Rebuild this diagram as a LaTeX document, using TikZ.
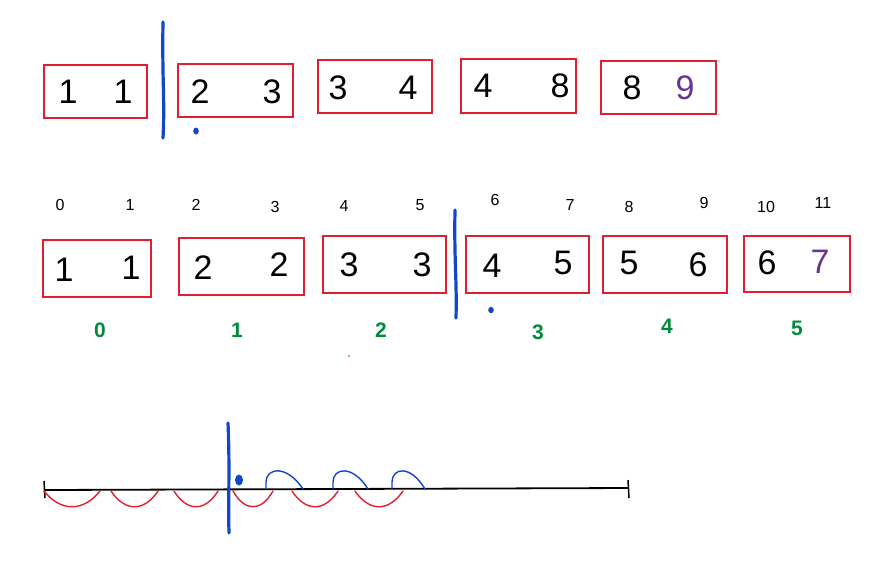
\documentclass[tikz,border=0pt]{standalone}
\usepackage{fontspec}
\setmainfont{Liberation Sans}
\usepackage{tikz}
\usetikzlibrary{positioning}
\definecolor{boxred}{RGB}{228,30,50}
\definecolor{penblue}{RGB}{20,70,200}
\definecolor{pengreen}{RGB}{0,140,60}
\definecolor{penpurple}{RGB}{105,50,150}

\begin{document}
\begin{tikzpicture}[
    x=1pt, y=-1pt,
    cell/.style={rectangle, draw=boxred, line width=1.6pt, minimum height=53pt, inner sep=0pt},
    dig/.style={font=\fontsize{34}{34}\selectfont, inner sep=0pt},
    idx/.style={font=\fontsize{16}{16}\selectfont, inner sep=0pt},
    grp/.style={font=\fontsize{21}{21}\selectfont\bfseries, text=pengreen, inner sep=0pt},
    cut/.style={draw=penblue, line width=3.2pt, line cap=round},
    redarc/.style={draw=boxred, line width=1.4pt, line cap=round},
    bluearc/.style={draw=penblue, line width=1.4pt, line cap=round},
  ]
  \useasboundingbox (0,0) rectangle (874,566);

  % first row
  \node[cell, minimum width=103pt] (a1) at (95.5,91.5) {};
  \node[cell, minimum width=115pt] (a2) at (235.5,90.5) {};
  \node[cell, minimum width=114pt] (a3) at (375,86.5) {};
  \node[cell, minimum width=115pt, minimum height=54pt] (a4) at (518.5,86) {};
  \node[cell, minimum width=115pt] (a5) at (658.5,87.5) {};
  \node[dig] (a1l) at (68,92) {1};
  \node[dig] (a1r) at (123,92) {1};
  \node[dig] (a2l) at (200,92) {2};
  \node[dig] (a2r) at (272,92) {3};
  \node[dig] (a3l) at (338,88) {3};
  \node[dig] (a3r) at (408,88) {4};
  \node[dig] (a4l) at (483,86) {4};
  \node[dig] (a4r) at (560,86) {8};
  \node[dig] (a5l) at (632,88) {8};
  \node[dig, text=penpurple] (a5r) at (685,88) {9};
  \draw[cut] (163,22) .. controls (162,80) and (165,100) .. (163,138);
  \fill[penblue] (196,131) ellipse (2.8pt and 3.5pt);

  % second row
  \foreach \i/\x/\y in {0/60/205, 1/130/205, 2/196/205, 3/275/207, 4/344/206, 5/420/205,
                         6/495/200, 7/570/205, 8/629/207, 9/704/203, 10/766/207, 11/823/203}
    \node[idx] (n\i) at (\x,\y) {\i};
  \node[cell, minimum width=108pt, minimum height=57pt] (c0) at (97,268.5) {};
  \node[cell, minimum width=125pt, minimum height=57pt] (c1) at (241.5,266.5) {};
  \node[cell, minimum width=123pt, minimum height=57pt] (c2) at (384.5,264.5) {};
  \node[cell, minimum width=123pt, minimum height=57pt] (c3) at (527.5,264.5) {};
  \node[cell, minimum width=124pt, minimum height=57pt] (c4) at (665,264.5) {};
  \node[cell, minimum width=106pt, minimum height=56pt] (c5) at (797,264) {};
  \node[dig] (c0l) at (64,270) {1};
  \node[dig] (c0r) at (131,268) {1};
  \node[dig] (c1l) at (203,268) {2};
  \node[dig] (c1r) at (279,265) {2};
  \node[dig] (c2l) at (349,265) {3};
  \node[dig] (c2r) at (422,265) {3};
  \node[dig] (c3l) at (492,266) {4};
  \node[dig] (c3r) at (563,263) {5};
  \node[dig] (c4l) at (629,263) {5};
  \node[dig] (c4r) at (698,265) {6};
  \node[dig] (c5l) at (767,263) {6};
  \node[dig, text=penpurple] (c5r) at (820,262) {7};
  \foreach \i/\x/\y in {0/100/330, 1/237/330, 2/381/330, 3/538/332, 4/667/326, 5/797/328}
    \node[grp] (g\i) at (\x,\y) {\i};
  \draw[cut] (455,210) .. controls (454,260) and (457,280) .. (456,318);
  \fill[penblue] (491,310) ellipse (2.8pt and 3.2pt);
  \fill[boxred] (349,356) circle (0.8pt);

  % number line
  \draw[line width=1.8pt] (44,490) -- (629,488);
  \draw[line width=1.5pt] (44,481) -- (45,498);
  \draw[line width=1.5pt] (628,480) -- (629,498);
  \foreach \a/\b in {44/100, 111/158, 174/218, 233/273, 292/338, 355/403}
    \draw[redarc] (\a,491) .. controls ({\a+0.3*(\b-\a)},512) and ({\b-0.3*(\b-\a)},512) .. (\b,491);
  \foreach \a/\b in {266/303, 333/368, 392/425}
    \draw[bluearc] (\a,489) -- (\a,482) .. controls (\a,468) and ({\a+0.55*(\b-\a)},464) .. (\b,489);
  \draw[cut] (228,423) .. controls (230,470) and (228,500) .. (229,533);
  \fill[penblue] (239,480) ellipse (4pt and 5.5pt);
\end{tikzpicture}
\end{document}
